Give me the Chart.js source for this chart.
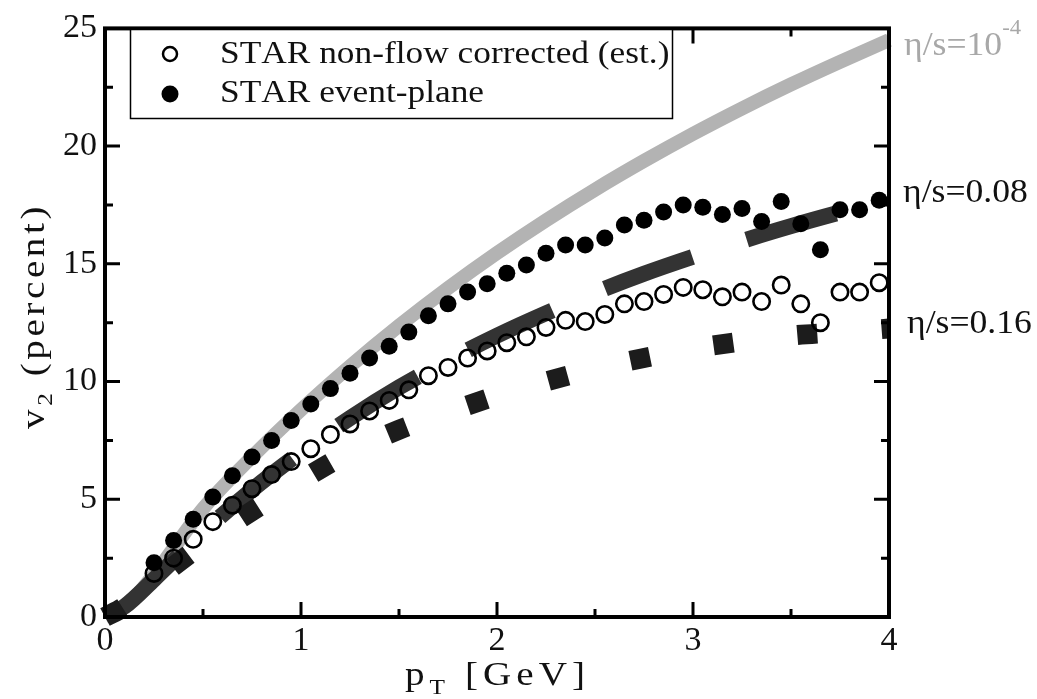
<!DOCTYPE html>
<html>
<head>
<meta charset="utf-8">
<script src="https://cdn.jsdelivr.net/npm/chart.js@4.4.0/dist/chart.umd.min.js"></script>
<style>
  html, body { margin: 0; padding: 0; background: #fff; }
</style>
</head>
<body>
<canvas id="v2Chart" width="1037" height="699"></canvas>
<script>
// ---- STAR data (pT in GeV, v2 in percent) ----
const starPt = [0.25, 0.35, 0.45, 0.55, 0.65, 0.75, 0.85, 0.95, 1.05, 1.15,
                1.25, 1.35, 1.45, 1.55, 1.65, 1.75, 1.85, 1.95, 2.05, 2.15,
                2.25, 2.35, 2.45, 2.55, 2.65, 2.75, 2.85, 2.95, 3.05, 3.15,
                3.25, 3.35, 3.45, 3.55, 3.65, 3.75, 3.85, 3.95];
const eventPlane = [2.3, 3.25, 4.15, 5.1, 6.0, 6.8, 7.5, 8.35, 9.05, 9.7,
                    10.35, 11.0, 11.5, 12.1, 12.8, 13.3, 13.8, 14.15, 14.6, 14.95,
                    15.45, 15.8, 15.8, 16.1, 16.65, 16.85, 17.2, 17.5, 17.4, 17.1,
                    17.35, 16.8, 17.65, 16.7, 15.6, 17.3, 17.3, 17.7];
const nonFlow = [1.85, 2.5, 3.3, 4.05, 4.75, 5.45, 6.05, 6.6, 7.15, 7.75,
                 8.2, 8.75, 9.2, 9.65, 10.25, 10.6, 11.0, 11.3, 11.65, 11.9,
                 12.3, 12.6, 12.55, 12.85, 13.3, 13.4, 13.7, 14.0, 13.9, 13.6,
                 13.8, 13.4, 14.1, 13.3, 12.5, 13.8, 13.8, 14.2];

// ---- hydro curves ----
const curvePt  = [0, 0.1, 0.25, 0.5, 0.75, 1.0, 1.25, 1.5, 1.75, 2.0, 2.25, 2.5, 2.75, 3.0, 3.25, 3.5, 3.75, 4.0];
const etaS0001 = [0, 0.4, 1.8, 4.6, 6.8, 8.8, 10.65, 12.37, 13.97, 15.46, 16.85, 18.15, 19.37, 20.52, 21.6, 22.62, 23.58, 24.5];
const etaS008  = [0, 0.45, 1.6, 3.6, 5.4, 7.0, 8.45, 9.75, 10.9, 11.95, 12.9, 13.78, 14.58, 15.3, 15.97, 16.6, 17.18, 17.72];
const etaS016  = [0, 0.45, 1.5, 3.1, 4.5, 5.8, 7.0, 7.95, 8.7, 9.4, 10.0, 10.55, 11.0, 11.4, 11.7, 11.95, 12.1, 12.25];

// ---- axes ----
const xLabelTicks = [0, 1, 2, 3, 4];
const xMarkTicks = [0.5, 1, 1.5, 2, 2.5, 3, 3.5];
const yMarkTicks = [2.5, 5, 7.5, 10, 12.5, 15, 17.5, 20, 22.5];

const serif = '"Liberation Serif", "Times New Roman", serif';

function pts(xs, ys) {
  return xs.map((x, i) => ({ x: x, y: ys[i] }));
}

// width of a run of [text, size, dy] pieces with extra letter spacing
function runWidth(ctx, parts, ls) {
  let w = 0;
  parts.forEach(([t, size]) => {
    ctx.font = size + "px " + serif;
    w += ctx.measureText(t).width + ls * t.length;
  });
  return w;
}

// draw a run, stretched sideways by sx and spaced so it spans `target` px
function drawRun(ctx, parts, x, y, sx, target) {
  let ls = 0;
  if (target) {
    const n = parts.reduce((s, p) => s + p[0].length, 0);
    ls = Math.max(0, (target / sx - runWidth(ctx, parts, 0)) / n);
  }
  ctx.save();
  ctx.translate(x, y);
  ctx.scale(sx, 1);
  let cx = 0;
  parts.forEach(([t, size, dy]) => {
    ctx.font = size + "px " + serif;
    for (const ch of t) {
      ctx.fillText(ch, cx, dy);
      cx += ctx.measureText(ch).width + ls;
    }
  });
  ctx.restore();
}

// ================= FRAME + INWARD TICKS =================
const framePlugin = {
  id: "frame",
  afterDatasetsDraw(chart) {
    const { ctx, chartArea: a, scales: { x, y } } = chart;
    ctx.save();
    ctx.strokeStyle = "#000";
    ctx.lineWidth = 4;
    ctx.strokeRect(a.left, a.top, a.right - a.left, a.bottom - a.top);
    ctx.lineWidth = 3;
    ctx.beginPath();
    xMarkTicks.forEach(v => {
      const px = x.getPixelForValue(v);
      const len = Number.isInteger(v) ? 15 : 8;
      ctx.moveTo(px, a.bottom); ctx.lineTo(px, a.bottom - len);
      ctx.moveTo(px, a.top); ctx.lineTo(px, a.top + len);
    });
    yMarkTicks.forEach(v => {
      const py = y.getPixelForValue(v);
      const len = v % 5 === 0 ? 15 : 8;
      ctx.moveTo(a.left, py); ctx.lineTo(a.left + len, py);
      ctx.moveTo(a.right, py); ctx.lineTo(a.right - len, py);
    });
    ctx.stroke();
    ctx.restore();
  }
};

// ================= LEGEND, CURVE LABELS, AXIS TITLES =================
const textPlugin = {
  id: "texts",
  afterDraw(chart) {
    const { ctx } = chart;
    ctx.save();
    ctx.textBaseline = "alphabetic";
    ctx.textAlign = "left";

    // legend box
    ctx.fillStyle = "#fff";
    ctx.fillRect(130, 29, 542, 89);
    ctx.strokeStyle = "#000";
    ctx.lineWidth = 1.5;
    ctx.strokeRect(130.5, 29.5, 542, 89);
    ctx.lineWidth = 2.5;
    ctx.beginPath(); ctx.arc(170, 54, 7, 0, Math.PI * 2); ctx.stroke();
    ctx.fillStyle = "#000";
    ctx.beginPath(); ctx.arc(170, 94, 8.5, 0, Math.PI * 2); ctx.fill();
    ctx.fillStyle = "#111";
    drawRun(ctx, [["STAR non-flow corrected (est.)", 31, 0]], 220, 63, 1.14);
    drawRun(ctx, [["STAR event-plane", 31, 0]], 220, 102, 1.14);

    // curve labels
    ctx.fillStyle = "#a8a8a8";
    drawRun(ctx, [["\u03b7/s=10", 33, 0], ["-4", 21, -21]], 904, 55, 1.08);
    ctx.fillStyle = "#111";
    drawRun(ctx, [["\u03b7/s=0.08", 33, 0]], 903, 202, 1.08);
    drawRun(ctx, [["\u03b7/s=0.16", 33, 0]], 907, 333, 1.08);

    // x axis title
    drawRun(ctx, [["p", 34, 0], ["T", 22, 9], [" [GeV]", 34, 0]], 405, 685, 1.15, 185);

    // y axis title
    const len = 226;
    ctx.save();
    ctx.translate(44, 316);
    ctx.rotate(-Math.PI / 2);
    drawRun(ctx, [["v", 34, 0], ["2", 22, 8], [" (percent)", 34, 0]], -len / 2, 0, 1.15, len);
    ctx.restore();

    ctx.restore();
  }
};

function drawChart() {
  const ctx = document.getElementById("v2Chart");
  new Chart(ctx, {
    type: "scatter",
    data: {
      datasets: [
        {
          label: "STAR event-plane",
          data: pts(starPt, eventPlane),
          pointStyle: "circle",
          pointRadius: 8.5,
          pointBackgroundColor: "#000",
          pointBorderWidth: 0,
          order: 0
        },
        {
          label: "STAR non-flow corrected (est.)",
          data: pts(starPt, nonFlow),
          pointStyle: "circle",
          pointRadius: 8.2,
          pointBackgroundColor: "rgba(0,0,0,0)",
          pointBorderColor: "#000",
          pointBorderWidth: 2.6,
          order: 1
        },
        {
          label: "eta/s=0.16",
          data: pts(curvePt, etaS016),
          showLine: true,
          pointRadius: 0,
          borderColor: "#1c1c1c",
          borderWidth: 20,
          borderDash: [20, 64.5],
          borderCapStyle: "butt",
          cubicInterpolationMode: "monotone",
          clip: false,
          order: 2
        },
        {
          label: "eta/s=0.08",
          data: pts(curvePt, etaS008),
          showLine: true,
          pointRadius: 0,
          borderColor: "#333333",
          borderWidth: 16,
          borderDash: [93, 57],
          borderDashOffset: -3,
          borderCapStyle: "butt",
          cubicInterpolationMode: "monotone",
          clip: false,
          order: 3
        },
        {
          label: "eta/s=1e-4",
          data: pts(curvePt, etaS0001),
          showLine: true,
          pointRadius: 0,
          borderColor: "#b3b3b3",
          borderWidth: 14,
          borderCapStyle: "butt",
          cubicInterpolationMode: "monotone",
          clip: false,
          order: 4
        }
      ]
    },
    options: {
      responsive: false,
      animation: false,
      devicePixelRatio: 1,
      layout: { padding: { left: 0, top: 21, right: 148, bottom: 0 } },
      plugins: { legend: { display: false }, tooltip: { enabled: false } },
      scales: {
        x: {
          type: "linear",
          min: 0,
          max: 4,
          afterFit: s => { s.height = 82; },
          afterBuildTicks: s => { s.ticks = xLabelTicks.map(v => ({ value: v })); },
          grid: { display: false, drawTicks: false },
          border: { display: false },
          ticks: { font: { family: serif, size: 34 }, color: "#111", padding: 4, maxRotation: 0, autoSkip: false }
        },
        y: {
          type: "linear",
          min: 0,
          max: 25,
          afterFit: s => { s.width = 105; },
          grid: { display: false, drawTicks: false },
          border: { display: false },
          ticks: { stepSize: 5, font: { family: serif, size: 34 }, color: "#111", padding: 8 }
        }
      }
    },
    plugins: [framePlugin, textPlugin]
  });
}

window.onload = drawChart;
</script>
</body>
</html>
